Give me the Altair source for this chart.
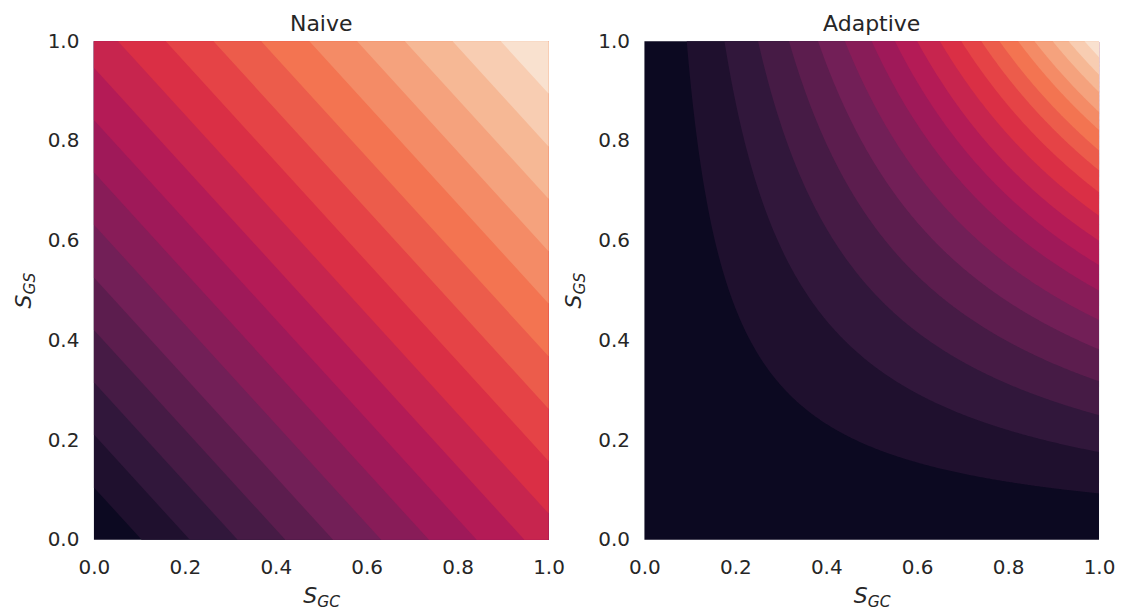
import altair as alt
import numpy as np
import pandas as pd

# ---- values ----
# Naive panel: contour levels of S_GC + S_GS (20 boundaries -> 19 filled bands)
naive_levels = [0.0, 0.105, 0.211, 0.316, 0.421, 0.526, 0.632, 0.737, 0.842, 0.947,
                1.053, 1.158, 1.263, 1.368, 1.474, 1.579, 1.684, 1.789, 1.895, 2.0]
# Adaptive panel: contour boundaries read along the top edge (S_GS = 1), i.e. values of S_GC * S_GS
adaptive_levels = [0.0, 0.093, 0.176, 0.250, 0.318, 0.382, 0.441, 0.500, 0.551, 0.600,
                   0.650, 0.697, 0.741, 0.781, 0.822, 0.858, 0.898, 0.933, 0.968, 1.0]
tick_values = [0.0, 0.2, 0.4, 0.6, 0.8, 1.0]
titles = ["Naive", "Adaptive"]

# ---- rocket colormap (seaborn) anchors, sampled at band midpoints ----
rocket_pos = [0.0, 1/7, 2/7, 3/7, 4/7, 5/7, 6/7, 1.0]
rocket_hex = ["#03051a", "#35193e", "#701f57", "#ad1759", "#e13342", "#f37651", "#f6b48f", "#faebdd"]


def hex2rgb(h):
    return [int(h[i:i + 2], 16) for i in (1, 3, 5)]


anch = np.array([hex2rgb(h) for h in rocket_hex], dtype=float)
n_bands = len(naive_levels) - 1
band_colors = []
for i in range(n_bands):
    t = (i + 0.5) / n_bands
    rgb = [np.interp(t, rocket_pos, anch[:, c]) for c in range(3)]
    band_colors.append("#%02x%02x%02x" % tuple(int(round(v)) for v in rgb))


# ---- region "value >= level_i" for each band, painted in order (filled contours) ----
def naive_region(lo):
    xs = {0.0, 1.0}
    for k in (lo, lo - 1):
        if 0 <= k <= 1:
            xs.add(round(k, 6))
    xs = sorted(xs)
    return pd.DataFrame({"x": xs, "ylo": [float(np.clip(lo - x, 0, 1)) for x in xs],
                         "yhi": [1.0] * len(xs)})


grid = np.round(np.linspace(0, 1, 401), 6)


def adaptive_region(lo):
    xs = sorted(set(grid.tolist()).union({lo}))
    ylo = []
    for x in xs:
        if lo == 0:
            ylo.append(0.0)
        elif x == 0:
            ylo.append(1.0)
        else:
            ylo.append(float(min(1.0, lo / x)))
    return pd.DataFrame({"x": xs, "ylo": ylo, "yhi": [1.0] * len(xs)})


W, H = 455, 499
FONT = "DejaVu Sans"
TXT = "#262626"

xscale = alt.Scale(domain=[0, 1], nice=False, zero=False)
yscale = alt.Scale(domain=[0, 1], nice=False, zero=False)
xaxis = alt.Axis(values=tick_values, format=".1f", title=None, ticks=False, domain=False,
                 grid=False, labelFontSize=20, labelFont=FONT, labelColor=TXT,
                 labelPadding=18, labelFlush=False)
yaxis = alt.Axis(values=tick_values, format=".1f", title=None, ticks=False, domain=False,
                 grid=False, labelFontSize=20, labelFont=FONT, labelColor=TXT,
                 labelPadding=15, labelFlush=False)


def panel(levels, region_fn, title):
    layers = []
    for i in range(n_bands):
        df = region_fn(levels[i])
        layers.append(
            alt.Chart(df).mark_area(interpolate="linear", color=band_colors[i],
                                    strokeWidth=0, opacity=1).encode(
                x=alt.X("x:Q", scale=xscale, axis=xaxis),
                y=alt.Y("yhi:Q", scale=yscale, axis=yaxis),
                y2="ylo:Q",
            )
        )
    one = pd.DataFrame({"k": [0]})
    common = dict(font=FONT, fontStyle="italic", align="left", baseline="alphabetic", color=TXT)
    layers += [
        alt.Chart(one).mark_text(text="S", fontSize=22, dx=-18, **common).encode(
            x=alt.value(W / 2), y=alt.value(H + 63)),
        alt.Chart(one).mark_text(text="GC", fontSize=15.5, dx=-4, dy=4, **common).encode(
            x=alt.value(W / 2), y=alt.value(H + 63)),
        alt.Chart(one).mark_text(text="S", fontSize=22, dx=-18, angle=270, **common).encode(
            x=alt.value(-63), y=alt.value(H / 2)),
        alt.Chart(one).mark_text(text="GS", fontSize=15.5, dx=-4, dy=4, angle=270, **common).encode(
            x=alt.value(-63), y=alt.value(H / 2)),
    ]
    return alt.layer(*layers).properties(
        width=W, height=H,
        title=alt.Title(title, fontSize=22, font=FONT, fontWeight="normal", color=TXT, offset=-5),
    )


chart = alt.hconcat(
    panel(naive_levels, naive_region, titles[0]),
    panel(adaptive_levels, adaptive_region, titles[1]),
    spacing=96, bounds="flush",
).configure_view(stroke=None).properties(
    padding={"left": 5, "top": 5, "right": 5, "bottom": 0}, background="white")

chart.save("out.html", embed_options={"renderer": "svg", "actions": False})
